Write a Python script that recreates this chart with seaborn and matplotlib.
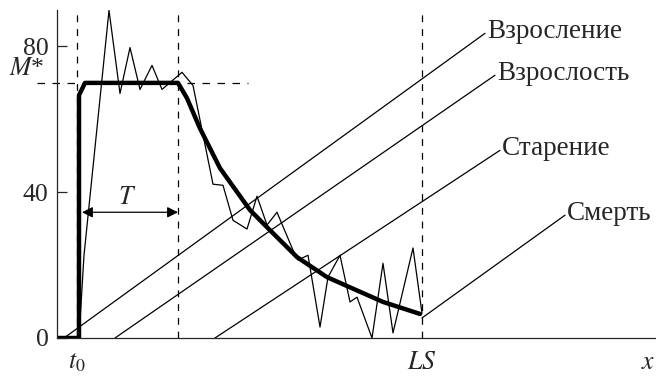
import matplotlib
matplotlib.use("Agg")
import matplotlib.pyplot as plt
import seaborn as sns
import pandas as pd

# smooth mean curve (bold)
mean_x = [0, 22, 22, 28, 121, 130, 143, 163, 193, 210, 240, 270, 293, 326, 363]
mean_y = [0, 0, 66.6, 70, 70, 65.8, 57.5, 46.6, 35.1, 30.4, 22.2, 16.7, 13.9, 9.9, 6.6]

# noisy observed curve (thin)
obs_x = [22, 27, 52, 63, 73, 83, 95, 105, 125, 136, 156, 166, 176, 190, 200, 210, 220,
         236, 241, 251, 263, 271, 283, 293, 300, 315, 326, 336, 356, 365]
obs_y = [0, 22.7, 89.9, 67.1, 79.7, 68.2, 74.8, 68.2, 72.9, 69.3, 42.2, 41.9, 32.3, 29.9,
         38.9, 31.0, 34.5, 24.1, 21.4, 22.7, 3.0, 16.7, 22.7, 9.9, 11.2, 0, 20.5, 1.4, 24.7, 6.8]

# stage lines: (x0, y0, x1, y1) and their labels
stages = ["Взросление", "Взрослость", "Старение", "Смерть"]
stage_x0 = [7, 58, 158, 365]
stage_y0 = [0, 0, 0, 5.5]
stage_x1 = [428, 438, 443, 508]
stage_y1 = [83.6, 72.1, 51.5, 33.7]

t0 = 20
t_end = 121
LS = 365
M_star = 70
y_ticks = [0, 40, 80]

sns.set_style("ticks")
plt.rcParams["font.family"] = ["Liberation Serif", "DejaVu Serif"]
plt.rcParams["mathtext.fontset"] = "stix"

fig = plt.figure(figsize=(6.56, 3.76), dpi=100)
ax = fig.add_axes([57 / 656, 38 / 376, 599 / 656, 328 / 376])

df_mean = pd.DataFrame({"x": mean_x, "y": mean_y})
df_obs = pd.DataFrame({"x": obs_x, "y": obs_y})
sns.lineplot(data=df_obs, x="x", y="y", sort=False, estimator=None,
             color="black", lw=0.9, ax=ax)
sns.lineplot(data=df_mean, x="x", y="y", sort=False, estimator=None,
             color="black", lw=3.2, ax=ax, solid_joinstyle="round")

for x0, y0, x1, y1, lab in zip(stage_x0, stage_y0, stage_x1, stage_y1, stages):
    ax.plot([x0, x1], [y0, y1], color="black", lw=0.9, clip_on=False)
    ax.text(x1 + 2, y1 + 0.5, lab, ha="left", va="center", fontsize=19.5, clip_on=False)

# dashed guides
for xv in [t0, t_end, LS]:
    ax.plot([xv, xv], [0, 90], color="black", lw=0.9, dashes=(5.5, 5.5))
ax.plot([-20, 191], [M_star, M_star], color="black", lw=0.9, dashes=(6, 6), clip_on=False)

# T interval arrow
ax.annotate("", xy=(25, 34.5), xytext=(t_end, 34.5),
            arrowprops=dict(arrowstyle="<|-|>", color="black", lw=0.9,
                            shrinkA=0, shrinkB=0, mutation_scale=16))
ax.text(70, 38.4, "$T$", ha="center", va="center", fontsize=18.5)
ax.text(-12, 73.8, "$M$*", ha="right", va="center", fontsize=18.5, clip_on=False)

ax.set_xlim(0, 599)
ax.set_ylim(0, 90)
ax.set_yticks(y_ticks)
ax.set_yticklabels([str(v) for v in y_ticks], fontsize=18.5)
ax.tick_params(axis="y", direction="in", length=7, width=0.9, pad=6)
ax.set_xticks([t0, LS, 591])
ax.set_xticklabels(["$t_0$", "$LS$", "$x$"], fontsize=18.5)
ax.tick_params(axis="x", length=0, pad=10)
ax.set_xlabel("")
ax.set_ylabel("")
sns.despine(ax=ax)
for s in ["left", "bottom"]:
    ax.spines[s].set_linewidth(0.9)

fig.savefig("out.png", dpi=100)
